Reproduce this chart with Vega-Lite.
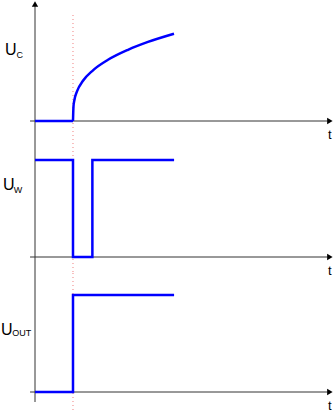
{
  "$schema": "https://vega.github.io/schema/vega-lite/v6.json",
  "autosize": {"type": "pad"},
  "padding": 0,
  "bounds": "flush",
  "spacing": 0,
  "config": {"view": {"stroke": null}, "font": "Liberation Sans"},
  "datasets": {
    "signals": [
      {"signal": "Uc", "seg": "a", "i": 0, "t": 0, "v": 0},
      {"signal": "Uc", "seg": "a", "i": 1, "t": 1.0, "v": 0},
      {"signal": "Uc", "seg": "b", "i": 2, "t": 1.0, "v": 0},
      {"signal": "Uc", "seg": "b", "i": 3, "t": 1.013, "v": 1.47},
      {"signal": "Uc", "seg": "b", "i": 4, "t": 1.039, "v": 2.13},
      {"signal": "Uc", "seg": "b", "i": 5, "t": 1.105, "v": 2.96},
      {"signal": "Uc", "seg": "b", "i": 6, "t": 1.263, "v": 4.02},
      {"signal": "Uc", "seg": "b", "i": 7, "t": 1.526, "v": 5.07},
      {"signal": "Uc", "seg": "b", "i": 8, "t": 1.921, "v": 6.12},
      {"signal": "Uc", "seg": "b", "i": 9, "t": 2.447, "v": 7.12},
      {"signal": "Uc", "seg": "b", "i": 10, "t": 2.974, "v": 7.91},
      {"signal": "Uc", "seg": "b", "i": 11, "t": 3.658, "v": 8.73},
      {"signal": "Uw", "seg": "a", "i": 0, "t": 0, "v": 9.7},
      {"signal": "Uw", "seg": "a", "i": 1, "t": 1.0, "v": 9.7},
      {"signal": "Uw", "seg": "a", "i": 2, "t": 1.0, "v": 0},
      {"signal": "Uw", "seg": "a", "i": 3, "t": 1.51, "v": 0},
      {"signal": "Uw", "seg": "a", "i": 4, "t": 1.51, "v": 9.7},
      {"signal": "Uw", "seg": "a", "i": 5, "t": 3.66, "v": 9.7},
      {"signal": "Uout", "seg": "a", "i": 0, "t": 0, "v": 0},
      {"signal": "Uout", "seg": "a", "i": 1, "t": 1.0, "v": 0},
      {"signal": "Uout", "seg": "a", "i": 2, "t": 1.0, "v": 9.7},
      {"signal": "Uout", "seg": "a", "i": 3, "t": 3.66, "v": 9.7}
    ],
    "guides": [
      {"panel": "Uc", "kind": "yaxis", "t": 0, "t2": 0, "v": -1.5, "v2": 11.6},
      {"panel": "Uc", "kind": "xaxis", "t": -0.13, "t2": 7.7, "v": 0, "v2": 0},
      {"panel": "Uc", "kind": "marker", "t": 1, "t2": 1, "v": -1.5, "v2": 10.6},
      {"panel": "Uw", "kind": "yaxis", "t": 0, "t2": 0, "v": -1.5, "v2": 12.1},
      {"panel": "Uw", "kind": "xaxis", "t": -0.13, "t2": 7.7, "v": 0, "v2": 0},
      {"panel": "Uw", "kind": "marker", "t": 1, "t2": 1, "v": -1.5, "v2": 12.1},
      {"panel": "Uout", "kind": "yaxis", "t": 0, "t2": 0, "v": -1.0, "v2": 12.0},
      {"panel": "Uout", "kind": "xaxis", "t": -0.13, "t2": 7.7, "v": 0, "v2": 0},
      {"panel": "Uout", "kind": "marker", "t": 1, "t2": 1, "v": -1.8, "v2": 12.0}
    ],
    "arrows": [
      {"panel": "Uc", "dir": "up", "t": 0, "v": 11.7},
      {"panel": "Uc", "dir": "right", "t": 7.76, "v": 0},
      {"panel": "Uw", "dir": "right", "t": 7.76, "v": 0},
      {"panel": "Uout", "dir": "right", "t": 7.76, "v": 0}
    ],
    "labels": [
      {"panel": "Uc", "part": "main", "text": "U", "t": -0.79, "v": 6.6},
      {"panel": "Uc", "part": "sub", "text": "C", "t": -0.49, "v": 6.35},
      {"panel": "Uc", "part": "axis", "text": "t", "t": 7.76, "v": -1.8},
      {"panel": "Uw", "part": "main", "text": "U", "t": -0.84, "v": 6.7},
      {"panel": "Uw", "part": "sub", "text": "W", "t": -0.56, "v": 6.45},
      {"panel": "Uw", "part": "axis", "text": "t", "t": 7.76, "v": -1.8},
      {"panel": "Uout", "part": "main", "text": "U", "t": -0.895, "v": 5.7},
      {"panel": "Uout", "part": "sub", "text": "OUT", "t": -0.6, "v": 5.6},
      {"panel": "Uout", "part": "axis", "text": "t", "t": 7.76, "v": -1.8}
    ]
  },
  "vconcat": [
    {
      "width": 300,
      "height": 136,
      "encoding": {
        "x": {"field": "t", "type": "quantitative", "scale": {"domain": [0, 7.895], "nice": false, "zero": false}, "axis": null},
        "y": {"field": "v", "type": "quantitative", "scale": {"domain": [-1.5, 12.1], "nice": false, "zero": false}, "axis": null}
      },
      "layer": [
        {"data": {"name": "guides"}, "transform": [{"filter": "datum.panel === 'Uc' && datum.kind === 'marker'"}],
         "mark": {"type": "rule", "color": "#f08080", "strokeDash": [1, 3], "strokeWidth": 1},
         "encoding": {"x2": {"field": "t2"}, "y2": {"field": "v2"}}},
        {"data": {"name": "guides"}, "transform": [{"filter": "datum.panel === 'Uc' && datum.kind !== 'marker'"}],
         "mark": {"type": "rule", "color": "#333333", "strokeWidth": 1},
         "encoding": {"x2": {"field": "t2"}, "y2": {"field": "v2"}}},
        {"data": {"name": "arrows"}, "transform": [{"filter": "datum.panel === 'Uc' && datum.dir === 'up'"}],
         "mark": {"type": "point", "shape": "triangle-up", "filled": true, "color": "#000000", "size": 40, "opacity": 1}},
        {"data": {"name": "arrows"}, "transform": [{"filter": "datum.panel === 'Uc' && datum.dir === 'right'"}],
         "mark": {"type": "point", "shape": "triangle-right", "filled": true, "color": "#000000", "size": 40, "opacity": 1}},
        {"data": {"name": "signals"}, "transform": [{"filter": "datum.signal === 'Uc'"}],
         "mark": {"type": "line", "color": "#0000ff", "strokeWidth": 2.5, "interpolate": "monotone"},
         "encoding": {"detail": {"field": "seg"}, "order": {"field": "i", "type": "quantitative"}}},
        {"data": {"name": "labels"}, "transform": [{"filter": "datum.panel === 'Uc' && datum.part === 'main'"}],
         "mark": {"type": "text", "align": "left", "baseline": "alphabetic", "fontSize": 16, "color": "#000000"},
         "encoding": {"text": {"field": "text"}}},
        {"data": {"name": "labels"}, "transform": [{"filter": "datum.panel === 'Uc' && datum.part === 'sub'"}],
         "mark": {"type": "text", "align": "left", "baseline": "alphabetic", "fontSize": 9, "color": "#000000"},
         "encoding": {"text": {"field": "text"}}},
        {"data": {"name": "labels"}, "transform": [{"filter": "datum.panel === 'Uc' && datum.part === 'axis'"}],
         "mark": {"type": "text", "align": "center", "baseline": "alphabetic", "fontSize": 13, "color": "#000000"},
         "encoding": {"text": {"field": "text"}}}
      ]
    },
    {
      "width": 300,
      "height": 136,
      "encoding": {
        "x": {"field": "t", "type": "quantitative", "scale": {"domain": [0, 7.895], "nice": false, "zero": false}, "axis": null},
        "y": {"field": "v", "type": "quantitative", "scale": {"domain": [-1.5, 12.1], "nice": false, "zero": false}, "axis": null}
      },
      "layer": [
        {"data": {"name": "guides"}, "transform": [{"filter": "datum.panel === 'Uw' && datum.kind === 'marker'"}],
         "mark": {"type": "rule", "color": "#f08080", "strokeDash": [1, 3], "strokeWidth": 1},
         "encoding": {"x2": {"field": "t2"}, "y2": {"field": "v2"}}},
        {"data": {"name": "guides"}, "transform": [{"filter": "datum.panel === 'Uw' && datum.kind !== 'marker'"}],
         "mark": {"type": "rule", "color": "#333333", "strokeWidth": 1},
         "encoding": {"x2": {"field": "t2"}, "y2": {"field": "v2"}}},
        {"data": {"name": "arrows"}, "transform": [{"filter": "datum.panel === 'Uw' && datum.dir === 'right'"}],
         "mark": {"type": "point", "shape": "triangle-right", "filled": true, "color": "#000000", "size": 40, "opacity": 1}},
        {"data": {"name": "signals"}, "transform": [{"filter": "datum.signal === 'Uw'"}],
         "mark": {"type": "line", "color": "#0000ff", "strokeWidth": 2.5},
         "encoding": {"order": {"field": "i", "type": "quantitative"}}},
        {"data": {"name": "labels"}, "transform": [{"filter": "datum.panel === 'Uw' && datum.part === 'main'"}],
         "mark": {"type": "text", "align": "left", "baseline": "alphabetic", "fontSize": 16, "color": "#000000"},
         "encoding": {"text": {"field": "text"}}},
        {"data": {"name": "labels"}, "transform": [{"filter": "datum.panel === 'Uw' && datum.part === 'sub'"}],
         "mark": {"type": "text", "align": "left", "baseline": "alphabetic", "fontSize": 9, "color": "#000000"},
         "encoding": {"text": {"field": "text"}}},
        {"data": {"name": "labels"}, "transform": [{"filter": "datum.panel === 'Uw' && datum.part === 'axis'"}],
         "mark": {"type": "text", "align": "center", "baseline": "alphabetic", "fontSize": 13, "color": "#000000"},
         "encoding": {"text": {"field": "text"}}}
      ]
    },
    {
      "width": 300,
      "height": 130,
      "encoding": {
        "x": {"field": "t", "type": "quantitative", "scale": {"domain": [0, 7.895], "nice": false, "zero": false}, "axis": null},
        "y": {"field": "v", "type": "quantitative", "scale": {"domain": [-1.0, 12.0], "nice": false, "zero": false}, "axis": null}
      },
      "layer": [
        {"data": {"name": "guides"}, "transform": [{"filter": "datum.panel === 'Uout' && datum.kind === 'marker'"}],
         "mark": {"type": "rule", "color": "#f08080", "strokeDash": [1, 3], "strokeWidth": 1},
         "encoding": {"x2": {"field": "t2"}, "y2": {"field": "v2"}}},
        {"data": {"name": "guides"}, "transform": [{"filter": "datum.panel === 'Uout' && datum.kind !== 'marker'"}],
         "mark": {"type": "rule", "color": "#333333", "strokeWidth": 1},
         "encoding": {"x2": {"field": "t2"}, "y2": {"field": "v2"}}},
        {"data": {"name": "arrows"}, "transform": [{"filter": "datum.panel === 'Uout' && datum.dir === 'right'"}],
         "mark": {"type": "point", "shape": "triangle-right", "filled": true, "color": "#000000", "size": 40, "opacity": 1}},
        {"data": {"name": "signals"}, "transform": [{"filter": "datum.signal === 'Uout'"}],
         "mark": {"type": "line", "color": "#0000ff", "strokeWidth": 2.5},
         "encoding": {"order": {"field": "i", "type": "quantitative"}}},
        {"data": {"name": "labels"}, "transform": [{"filter": "datum.panel === 'Uout' && datum.part === 'main'"}],
         "mark": {"type": "text", "align": "left", "baseline": "alphabetic", "fontSize": 16, "color": "#000000"},
         "encoding": {"text": {"field": "text"}}},
        {"data": {"name": "labels"}, "transform": [{"filter": "datum.panel === 'Uout' && datum.part === 'sub'"}],
         "mark": {"type": "text", "align": "left", "baseline": "alphabetic", "fontSize": 9, "color": "#000000"},
         "encoding": {"text": {"field": "text"}}},
        {"data": {"name": "labels"}, "transform": [{"filter": "datum.panel === 'Uout' && datum.part === 'axis'"}],
         "mark": {"type": "text", "align": "center", "baseline": "alphabetic", "fontSize": 13, "color": "#000000"},
         "encoding": {"text": {"field": "text"}}}
      ]
    }
  ]
}
